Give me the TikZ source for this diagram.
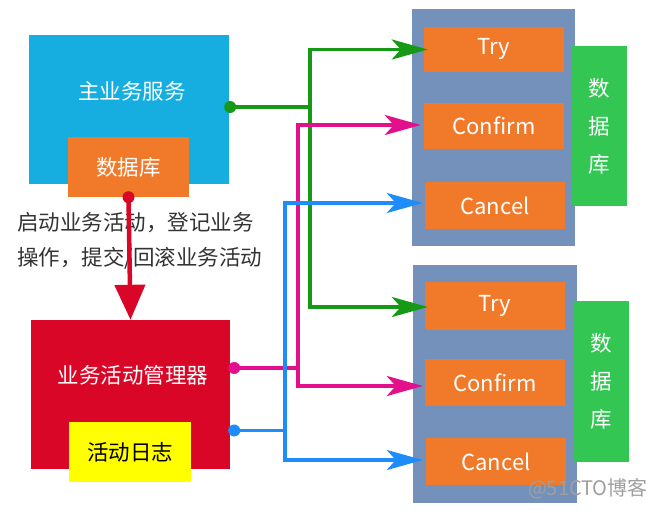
\documentclass[tikz,border=0pt]{standalone}
\usepackage{fontspec}
\setmainfont{Noto Sans CJK SC}
\usetikzlibrary{arrows.meta,calc}
\definecolor{cblue}{HTML}{16ADE0}
\definecolor{corange}{HTML}{F07A2A}
\definecolor{cslate}{HTML}{7391BA}
\definecolor{cdbgreen}{HTML}{33C653}
\definecolor{cred}{HTML}{DA0628}
\definecolor{cyellow}{HTML}{FFFF00}
\definecolor{lgreen}{HTML}{169A16}
\definecolor{lmag}{HTML}{E2108C}
\definecolor{lblue}{HTML}{1E8CFA}
\definecolor{ctext}{HTML}{333333}
\tikzset{
  box/.style={draw=none,inner sep=0pt,font=\fontsize{21.5}{24}\selectfont,text=white},
  lbox/.style={box,font=\fontsize{22}{24}\selectfont},
  conn/.style={line width=3.5pt},
  tip/.style={-{Stealth[length=36pt,width=20pt,inset=9pt]}},
}
\begin{document}
\begin{tikzpicture}[x=1pt,y=-1pt]
\useasboundingbox[fill=white] (0,0) rectangle (653,512);
% left side
\node[box,fill=cblue,minimum width=200pt,minimum height=149pt] (main) at (129,109.5) {};
\node[box] (maintext) at (132,91) {主业务服务};
\node[box,fill=corange,minimum width=121pt,minimum height=60pt] (maindb) at (128.5,167) {数据库};
\node[box,fill=cred,minimum width=199pt,minimum height=149pt] (mgr) at (130.5,394.5) {};
\node[box] (mgrtext) at (133,375) {业务活动管理器};
\node[box,fill=cyellow,text=black,minimum width=122pt,minimum height=60pt] (log) at (130,452) {活动日志};
\node[anchor=west,align=left,inner sep=0pt,text=ctext,font=\fontsize{21.5}{35}\selectfont] (label) at (17,240.5) {启动业务活动，登记业务\\操作，提交/回滚业务活动};
% right top
\node[box,fill=cslate,minimum width=163pt,minimum height=237pt] (s1) at (493.5,127.5) {};
\node[lbox,fill=corange,minimum width=140pt,minimum height=45pt] (try1) at (494,49.5) {Try};
\node[lbox,fill=corange,minimum width=140pt,minimum height=46pt] (conf1) at (494,126) {Confirm};
\node[lbox,fill=corange,minimum width=140pt,minimum height=47pt] (canc1) at (495,205.5) {Cancel};
\node[box,fill=cdbgreen,minimum width=56pt,minimum height=160pt,align=center,font=\fontsize{21.5}{38}\selectfont] (db1) at (599,126) {数\\据\\库};
% right bottom
\node[box,fill=cslate,minimum width=164pt,minimum height=238pt] (s2) at (495,384) {};
\node[lbox,fill=corange,minimum width=140pt,minimum height=48pt] (try2) at (495,306) {Try};
\node[lbox,fill=corange,minimum width=140pt,minimum height=47pt] (conf2) at (495,382.5) {Confirm};
\node[lbox,fill=corange,minimum width=140pt,minimum height=47pt] (canc2) at (496,461.5) {Cancel};
\node[box,fill=cdbgreen,minimum width=56pt,minimum height=161pt,align=center,font=\fontsize{21.5}{38}\selectfont] (db2) at (601,381.5) {数\\据\\库};
% red arrow
\draw[line width=4.5pt,cred,-{Triangle[length=35pt,width=30pt]}] (maindb.south) -- (mgr.north);
\fill[cred] (maindb.south) circle (6pt);
% green
\coordinate (g0) at ($(main.east)+(1,-2.5)$);
\coordinate (gj) at (310,107);
\draw[conn,lgreen] (g0) -- (gj);
\draw[conn,lgreen,tip] (gj) |- ($(try1.west)+(4,0)$);
\draw[conn,lgreen,tip] (gj) |- ($(try2.west)+(3,1)$);
\fill[lgreen] (g0) circle (6pt);
% magenta
\coordinate (m0) at ($(mgr.east)+(4,-26.5)$);
\coordinate (mj) at (298,368);
\draw[conn,lmag] (m0) -- (mj);
\draw[conn,lmag,tip] (mj) |- ($(conf1.west)+(-3,-1)$);
\draw[conn,lmag,tip] (mj) |- ($(conf2.west)+(-2,3.5)$);
\fill[lmag] (m0) circle (6pt);
% blue
\coordinate (b0) at ($(mgr.east)+(4,36)$);
\coordinate (bj) at (285,430.5);
\draw[conn,lblue] (b0) -- (bj);
\draw[conn,lblue,tip] (bj) |- ($(canc1.west)+(-2,-2.5)$);
\draw[conn,lblue,tip] (bj) |- ($(canc2.west)+(-3,-1.5)$);
\fill[lblue] (b0) circle (6pt);
% watermark
\node[anchor=east,inner sep=0pt,text=gray!75,font=\fontsize{20}{22}\selectfont] (wm) at (648,489) {@51CTO博客};
\end{tikzpicture}
\end{document}
